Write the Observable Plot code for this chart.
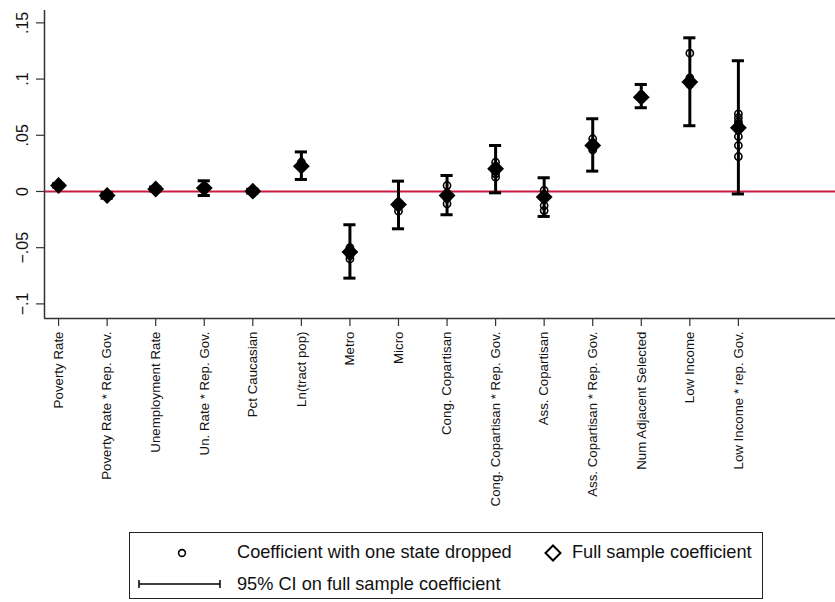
<!DOCTYPE html>
<html>
<head>
<meta charset="utf-8">
<script src="https://cdn.jsdelivr.net/npm/d3@7"></script>
<script src="https://cdn.jsdelivr.net/npm/@observablehq/plot@0.6"></script>
<style>
  html, body { margin: 0; padding: 0; background: #fff; }
  body { width: 835px; height: 602px; position: relative; overflow: hidden; font-family: "Liberation Sans", Arial, sans-serif; }
  #legend { position: absolute; left: 129px; top: 532px; width: 634px; height: 67px; border: 1.5px solid #222; box-sizing: border-box; }
  #legend .t { position: absolute; font-size: 18.2px; color: #111; white-space: nowrap; line-height: 1; }
  #legend svg { position: absolute; overflow: visible; }
</style>
</head>
<body>
<div id="chart"></div>
<div id="legend"></div>
<script>
const categories = [
  "Poverty Rate", "Poverty Rate * Rep. Gov.", "Unemployment Rate", "Un. Rate * Rep. Gov.",
  "Pct Caucasian", "Ln(tract pop)", "Metro", "Micro", "Cong. Copartisan",
  "Cong. Copartisan * Rep. Gov.", "Ass. Copartisan", "Ass. Copartisan * Rep. Gov.",
  "Num Adjacent Selected", "Low Income", "Low Income * rep. Gov."
];
const coef   = [0.0053, -0.0036, 0.0022, 0.0030, 0.0003, 0.0225, -0.0538, -0.0116, -0.0036, 0.0202, -0.0050, 0.0409, 0.0839, 0.0973, 0.0567];
const ciLow  = [0.0040, -0.0060, 0.0005, -0.0036, -0.0015, 0.0107, -0.0771, -0.0332, -0.0207, -0.0012, -0.0222, 0.0181, 0.0745, 0.0585, -0.0022];
const ciHigh = [0.0068, -0.0012, 0.0040, 0.0095, 0.0020, 0.0352, -0.0296, 0.0092, 0.0142, 0.0409, 0.0122, 0.0647, 0.0952, 0.1367, 0.1163];
const dropped = [
  [0.0050, 0.0056, 0.0060],
  [-0.0040, -0.0032, -0.0045],
  [0.0020, 0.0025, 0.0018],
  [0.0028, 0.0035, 0.0022],
  [0.0002, 0.0005, 0.0000],
  [0.0220, 0.0235, 0.0210, 0.0260],
  [-0.0500, -0.0530, -0.0570, -0.0600],
  [-0.0100, -0.0130, -0.0175],
  [0.0053, -0.0020, -0.0060, -0.0110],
  [0.0260, 0.0210, 0.0157, 0.0127],
  [0.0010, -0.0060, -0.0125, -0.0170],
  [0.0469, 0.0430, 0.0390, 0.0370],
  [0.0830, 0.0850, 0.0860],
  [0.1230, 0.0990, 0.0950, 0.1010],
  [0.0691, 0.0656, 0.0620, 0.0600, 0.0550, 0.0489, 0.0409, 0.0311]
];
const yTicks = [-0.1, -0.05, 0, 0.05, 0.1, 0.15];

const rows = categories.map((c, i) => ({i: i + 1, name: c, b: coef[i], lo: ciLow[i], hi: ciHigh[i]}));
const dots = dropped.flatMap((vals, i) => vals.map(v => ({i: i + 1, v})));

const xDomain = [0.71, 17.0];
const yDomain = [-0.113, 0.161];
const capHalf = 0.125;
const stataFmt = d => d === 0 ? "0" : d3.format(".2~f")(d).replace("0.", ".");

const chart = Plot.plot({
  width: 835,
  height: 525,
  marginLeft: 44,
  marginRight: 0,
  marginTop: 10,
  marginBottom: 207,
  style: {fontFamily: '"Liberation Sans", Arial, sans-serif', color: "#111", background: "#fff"},
  x: {domain: xDomain, range: [44, 835], label: null},
  y: {domain: yDomain, label: null},
  marks: [
    Plot.axisY({ticks: yTicks, tickFormat: stataFmt, tickRotate: -90, fontSize: 16, tickSize: 8, tickPadding: 9, stroke: "#333", strokeWidth: 1.2, label: null}),
    Plot.axisX({ticks: d3.range(1, 16), tickFormat: i => categories[i - 1], tickRotate: -90, fontSize: 13.3, tickSize: 8, tickPadding: 5, stroke: "#333", strokeWidth: 1.2, label: null}),
    Plot.ruleY([0], {stroke: "#cc1a3f", strokeWidth: 2}),
    Plot.ruleX([xDomain[0]], {stroke: "#333", strokeWidth: 1.5}),
    Plot.ruleY([yDomain[0]], {stroke: "#333", strokeWidth: 1.5}),
    Plot.ruleX(rows, {x: "i", y1: "lo", y2: "hi", stroke: "#000", strokeWidth: 3}),
    Plot.ruleY(rows, {y: "lo", x1: d => d.i - capHalf, x2: d => d.i + capHalf, stroke: "#000", strokeWidth: 3}),
    Plot.ruleY(rows, {y: "hi", x1: d => d.i - capHalf, x2: d => d.i + capHalf, stroke: "#000", strokeWidth: 3}),
    Plot.dot(rows, {x: "i", y: "b", symbol: "diamond2", r: 7.6, fill: "#000", stroke: "none"}),
    Plot.dot(dots, {x: "i", y: "v", r: 3.6, fill: "none", stroke: "#000", strokeWidth: 1.6})
  ]
});
document.getElementById("chart").appendChild(chart);

// Legend
const legend = document.getElementById("legend");
const lx = 129, ly = 532;
function addText(txt, x, y) {
  const d = document.createElement("div");
  d.className = "t";
  d.textContent = txt;
  d.style.left = (x - lx) + "px";
  d.style.top = (y - ly) + "px";
  legend.appendChild(d);
}
function addSvg(x, y, w, h, inner) {
  const s = document.createElementNS("http://www.w3.org/2000/svg", "svg");
  s.setAttribute("width", w); s.setAttribute("height", h);
  s.style.left = (x - lx) + "px"; s.style.top = (y - ly) + "px";
  s.innerHTML = inner;
  legend.appendChild(s);
}
addSvg(176, 547, 10, 10, '<circle cx="5" cy="5" r="3.4" fill="none" stroke="#000" stroke-width="1.6"/>');
addText("Coefficient with one state dropped", 236, 542);
addSvg(543, 543, 18, 18, '<path d="M9,1.5 L16.5,9 L9,16.5 L1.5,9 Z" fill="none" stroke="#000" stroke-width="2"/>');
addText("Full sample coefficient", 571, 542);
addSvg(137, 577, 84, 12, '<line x1="1" y1="6" x2="82" y2="6" stroke="#000" stroke-width="1.5"/><line x1="1" y1="2" x2="1" y2="10" stroke="#000" stroke-width="1.5"/><line x1="82" y1="2" x2="82" y2="10" stroke="#000" stroke-width="1.5"/>');
addText("95% CI on full sample coefficient", 236, 574);
</script>
</body>
</html>
